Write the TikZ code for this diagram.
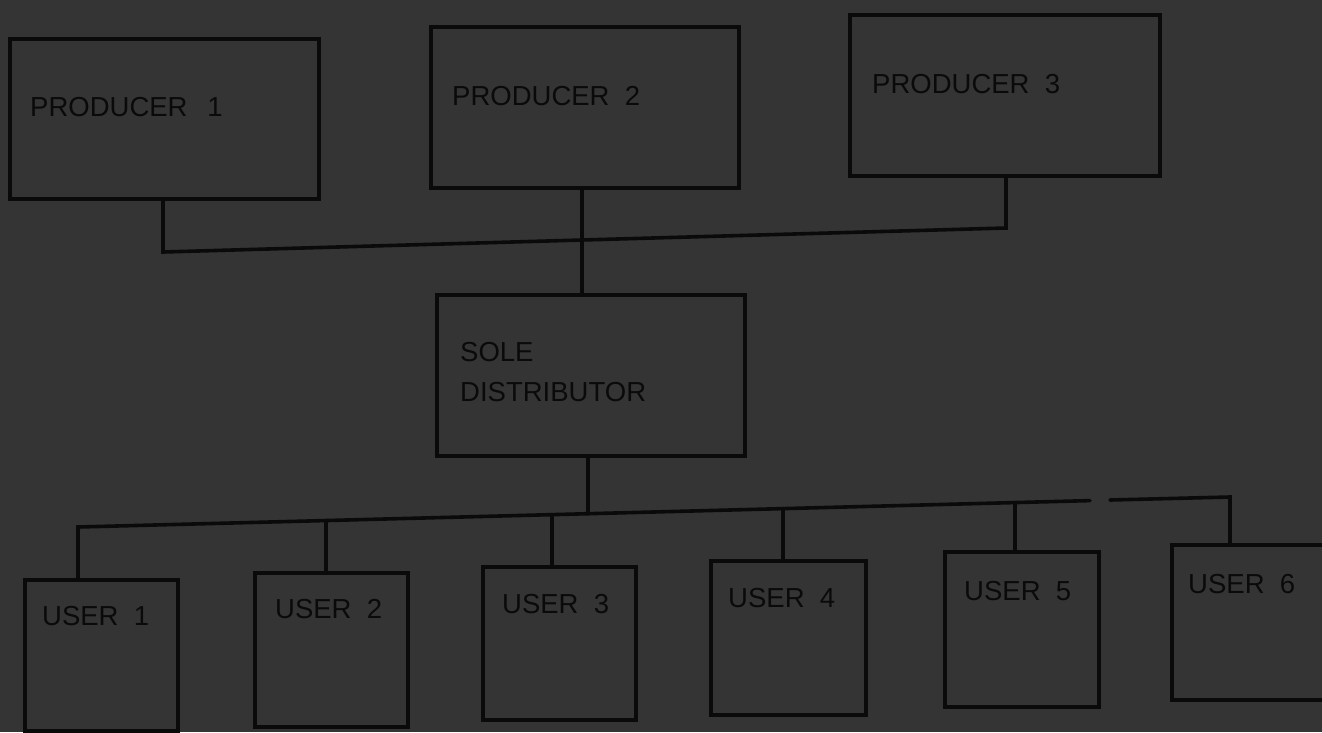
\documentclass[tikz,border=0pt]{standalone}
\usepackage{fontspec}
\setmainfont{Liberation Sans}
\definecolor{bg}{HTML}{343434}
\definecolor{ink}{HTML}{0A0A0A}
\begin{document}
\begin{tikzpicture}[x=1pt,y=-1pt,
  box/.style={draw=ink, line width=3.6pt, inner sep=0pt, anchor=north west},
  lbl/.style={anchor=west, inner sep=0pt, text=ink, font=\fontsize{27.5}{32}\selectfont},
  wire/.style={draw=ink, line width=3.6pt, line cap=round}]
\fill[bg] (0,0) rectangle (1322,732);
\useasboundingbox (0,0) rectangle (1322,732);
% producers
\node[box, minimum width=309pt, minimum height=160pt] (p1) at (8,37) {};
\node[box, minimum width=308pt, minimum height=161pt] (p2) at (429,25) {};
\node[box, minimum width=310pt, minimum height=161pt] (p3) at (848,13) {};
\node[lbl] (t1) at (30,107) {PRODUCER\ \ \,1};
\node[lbl] (t2) at (452,96) {PRODUCER\ \ 2};
\node[lbl] (t3) at (872,84) {PRODUCER\ \ 3};
% distributor
\node[box, minimum width=308pt, minimum height=161pt] (d) at (435,293) {};
\node[lbl, align=left, font=\fontsize{27.5}{40}\selectfont] (td) at (460,372) {SOLE\\DISTRIBUTOR};
% users
\node[box, minimum width=153pt, minimum height=151pt] (u1) at (23,578) {};
\node[box, minimum width=153pt, minimum height=154pt] (u2) at (253,571) {};
\node[box, minimum width=153pt, minimum height=153pt] (u3) at (481,565) {};
\node[box, minimum width=155pt, minimum height=154pt] (u4) at (709,559) {};
\node[box, minimum width=154pt, minimum height=155pt] (u5) at (943,550) {};
\node[box, minimum width=160pt, minimum height=155pt] (u6) at (1170,543) {};
\node[lbl] (tu1) at (42,616) {USER\ \ 1};
\node[lbl] (tu2) at (275,609) {USER\ \ 2};
\node[lbl] (tu3) at (502,604) {USER\ \ 3};
\node[lbl] (tu4) at (728,598) {USER\ \ 4};
\node[lbl] (tu5) at (964,591) {USER\ \ 5};
\node[lbl] (tu6) at (1188,584) {USER\ \ 6};
% producer bus
\coordinate (b1) at (163,252);
\coordinate (b2) at (582,240);
\coordinate (b3) at (1006,228);
\draw[wire] (p1.south -| b1) -- (b1) -- (b2) -- (b3) -- (p3.south -| b3);
\draw[wire] (p2.south -| b2) -- (d.north -| b2);
% user bus
\coordinate (c0) at (588,513.7);
\coordinate (c1) at (78,527);
\coordinate (c2) at (326,520.5);
\coordinate (c3) at (552,514.6);
\coordinate (c4) at (783,508.6);
\coordinate (c5) at (1015,502.6);
\coordinate (g1) at (1090,500.6);
\coordinate (g2) at (1110,500);
\coordinate (c6) at (1230,497);
\draw[wire] (d.south -| c0) -- (c0);
\draw[wire] (u1.north -| c1) -- (c1) -- (g1);
\draw[wire] (g2) -- (c6) -- (u6.north -| c6);
\draw[wire] (u2.north -| c2) -- (c2);
\draw[wire] (u3.north -| c3) -- (c3);
\draw[wire] (u4.north -| c4) -- (c4);
\draw[wire] (u5.north -| c5) -- (c5);
\end{tikzpicture}
\end{document}
